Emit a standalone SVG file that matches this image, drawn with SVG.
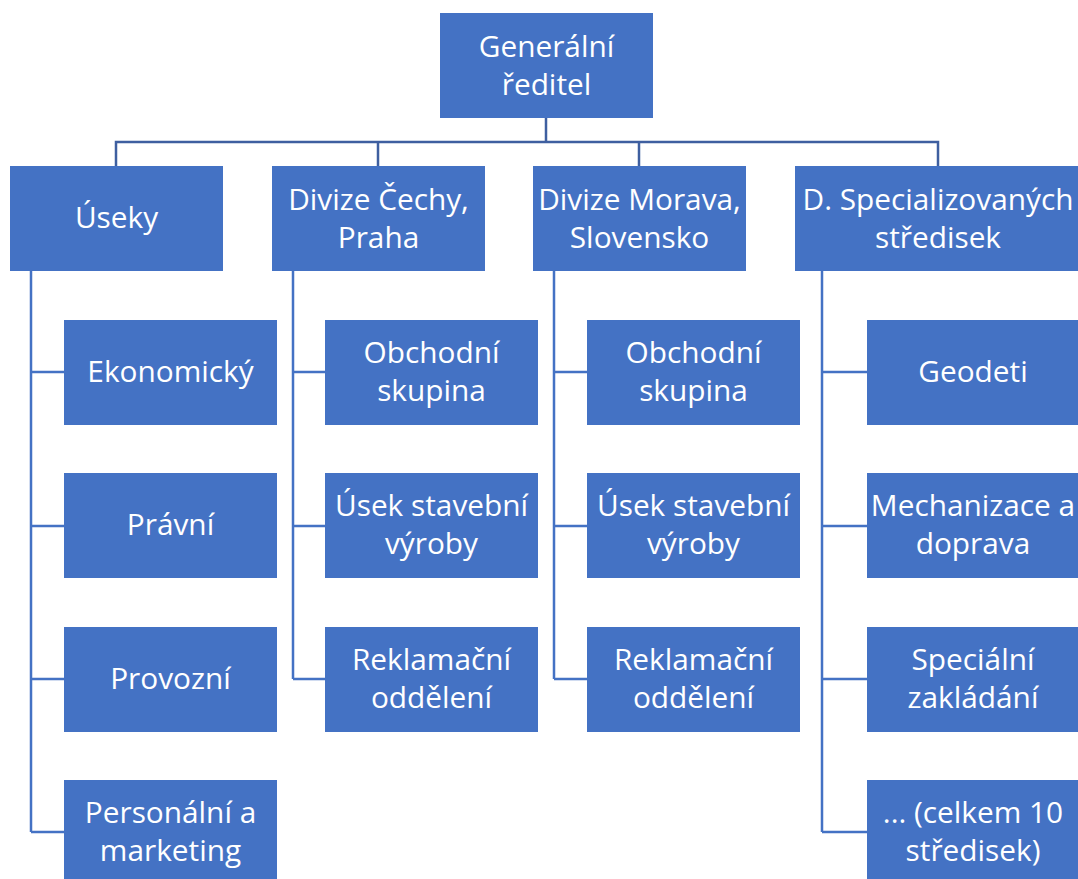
<svg xmlns="http://www.w3.org/2000/svg" width="1078" height="879" viewBox="0 0 1078 879">
  <style>
    .box { fill: #4472C4; }
    .t { font-family: "Open Sans", Lato, "Liberation Sans", sans-serif; font-size: 29.8px; fill: #FFFFFF; text-anchor: middle; }
    .bus { fill: none; stroke: #3E5FA0; stroke-width: 2.5; }
    .spine { fill: none; stroke: #4472C4; stroke-width: 2.5; }
  </style>
  <rect width="1078" height="879" fill="#FFFFFF"/>

  <!-- connectors -->
  <g id="connectors">
    <path class="bus" d="M546 118 V142 M116 166 V142 H938 V166 M378 142 V166 M639 142 V166"/>
    <path class="spine" d="M31 271 V832 M31 372 H64 M31 526 H64 M31 679 H64 M31 832 H64"/>
    <path class="spine" d="M293 271 V679 M293 372 H325 M293 526 H325 M293 679 H325"/>
    <path class="spine" d="M554 271 V679 M554 372 H587 M554 526 H587 M554 679 H587"/>
    <path class="spine" d="M822 271 V832 M822 372 H867 M822 526 H867 M822 679 H867 M822 832 H867"/>
  </g>

  <!-- root -->
  <g id="n-generalni-reditel">
    <rect class="box" x="440" y="13" width="213" height="105"/>
    <text class="t" x="546.5" y="57">Generální</text>
    <text class="t" x="546.5" y="95">ředitel</text>
  </g>

  <!-- level 1 -->
  <g id="n-useky">
    <rect class="box" x="10" y="166" width="213" height="105"/>
    <text class="t" x="116.5" y="228">Úseky</text>
  </g>
  <g id="n-divize-cechy">
    <rect class="box" x="272" y="166" width="213" height="105"/>
    <text class="t" x="378.5" y="210">Divize Čechy,</text>
    <text class="t" x="378.5" y="248">Praha</text>
  </g>
  <g id="n-divize-morava">
    <rect class="box" x="533" y="166" width="213" height="105"/>
    <text class="t" x="639.5" y="210">Divize Morava,</text>
    <text class="t" x="639.5" y="248">Slovensko</text>
  </g>
  <g id="n-specializovana-strediska">
    <rect class="box" x="795" y="166" width="283" height="105"/>
    <text class="t" x="938" y="210">D. Specializovaných</text>
    <text class="t" x="938" y="248">středisek</text>
  </g>

  <!-- Úseky -->
  <g id="n-ekonomicky">
    <rect class="box" x="64" y="320" width="213" height="105"/>
    <text class="t" x="170.5" y="382">Ekonomický</text>
  </g>
  <g id="n-pravni">
    <rect class="box" x="64" y="473" width="213" height="105"/>
    <text class="t" x="170.5" y="535">Právní</text>
  </g>
  <g id="n-provozni">
    <rect class="box" x="64" y="627" width="213" height="105"/>
    <text class="t" x="170.5" y="689">Provozní</text>
  </g>
  <g id="n-personalni">
    <rect class="box" x="64" y="780" width="213" height="105"/>
    <text class="t" x="170.5" y="823">Personální a</text>
    <text class="t" x="170.5" y="861">marketing</text>
  </g>

  <!-- Divize Čechy -->
  <g id="n-cechy-obchodni">
    <rect class="box" x="325" y="320" width="213" height="105"/>
    <text class="t" x="431.5" y="363">Obchodní</text>
    <text class="t" x="431.5" y="401">skupina</text>
  </g>
  <g id="n-cechy-stavebni">
    <rect class="box" x="325" y="473" width="213" height="105"/>
    <text class="t" x="431.5" y="516">Úsek stavební</text>
    <text class="t" x="431.5" y="554">výroby</text>
  </g>
  <g id="n-cechy-reklamacni">
    <rect class="box" x="325" y="627" width="213" height="105"/>
    <text class="t" x="431.5" y="670">Reklamační</text>
    <text class="t" x="431.5" y="708">oddělení</text>
  </g>

  <!-- Divize Morava -->
  <g id="n-morava-obchodni">
    <rect class="box" x="587" y="320" width="213" height="105"/>
    <text class="t" x="693.5" y="363">Obchodní</text>
    <text class="t" x="693.5" y="401">skupina</text>
  </g>
  <g id="n-morava-stavebni">
    <rect class="box" x="587" y="473" width="213" height="105"/>
    <text class="t" x="693.5" y="516">Úsek stavební</text>
    <text class="t" x="693.5" y="554">výroby</text>
  </g>
  <g id="n-morava-reklamacni">
    <rect class="box" x="587" y="627" width="213" height="105"/>
    <text class="t" x="693.5" y="670">Reklamační</text>
    <text class="t" x="693.5" y="708">oddělení</text>
  </g>

  <!-- Specializovaná střediska -->
  <g id="n-geodeti">
    <rect class="box" x="867" y="320" width="211" height="105"/>
    <text class="t" x="973" y="382">Geodeti</text>
  </g>
  <g id="n-mechanizace">
    <rect class="box" x="867" y="473" width="211" height="105"/>
    <text class="t" x="973" y="516">Mechanizace a</text>
    <text class="t" x="973" y="554">doprava</text>
  </g>
  <g id="n-specialni-zakladani">
    <rect class="box" x="867" y="627" width="211" height="105"/>
    <text class="t" x="973" y="670">Speciální</text>
    <text class="t" x="973" y="708">zakládání</text>
  </g>
  <g id="n-celkem">
    <rect class="box" x="867" y="780" width="211" height="105"/>
    <text class="t" x="973" y="823">... (celkem 10</text>
    <text class="t" x="973" y="861">středisek)</text>
  </g>
</svg>
